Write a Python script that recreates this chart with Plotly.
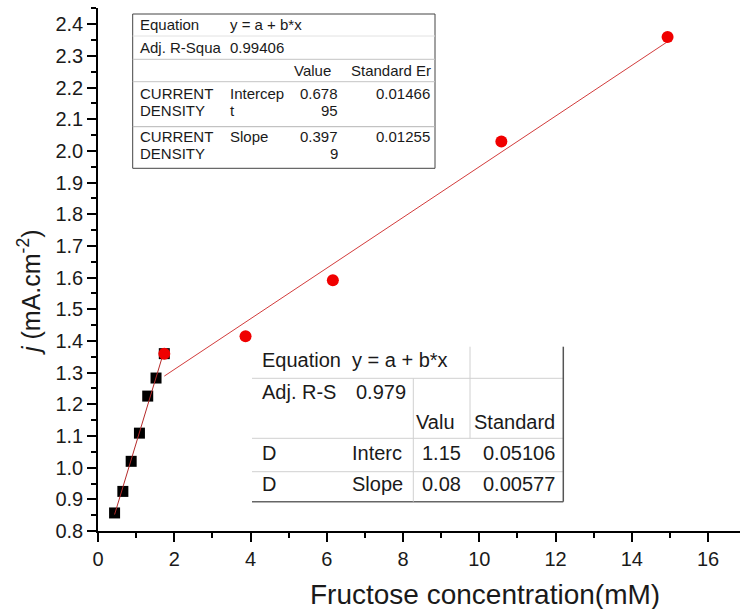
import numpy as np
import plotly.graph_objects as go

# ---------------- data ----------------
x_low = [0.435, 0.652, 0.870, 1.087, 1.304, 1.522, 1.739]
j_low = [0.857, 0.925, 1.020, 1.109, 1.226, 1.283, 1.360]
x_high = [1.739, 3.87, 6.16, 10.58, 14.94]
j_high = [1.360, 1.415, 1.592, 2.030, 2.360]

fit_low = {"intercept": 0.67895, "slope": 0.3979}
fit_high = {"intercept": 1.15, "slope": 0.08}

x_tickvals = [0, 2, 4, 6, 8, 10, 12, 14, 16]
y_tickvals = [0.8, 0.9, 1.0, 1.1, 1.2, 1.3, 1.4, 1.5, 1.6, 1.7, 1.8, 1.9, 2.0, 2.1, 2.2, 2.3, 2.4]

# each cell is a list of text lines
table1_rows = [
    [["Equation"], ["y = a + b*x"], [], []],
    [["Adj. R-Squa"], ["0.99406"], [], []],
    [[], [], ["Value"], ["Standard Er"]],
    [["CURRENT", "DENSITY"], ["Intercep", "t"], ["0.678", "95"], ["0.01466"]],
    [["CURRENT", "DENSITY"], ["Slope"], ["0.397", "9"], ["0.01255"]],
]
table2_rows = [
    ["Equation", "y = a + b*x", "", ""],
    ["Adj. R-S", "0.979", "", ""],
    ["", "", "Valu", "Standard"],
    ["D", "Interc", "1.15", "0.05106"],
    ["D", "Slope", "0.08", "0.00577"],
]

FONT = "Liberation Sans, Arial, sans-serif"
TXT = "#1a1a1a"
W, H = 740, 609
ML, MR, MT, MB = 98, 0, 8, 78
PW, PH = W - ML - MR, H - MT - MB


def px(x):
    return (x - ML) / PW


def py(y):
    return (H - MB - y) / PH


fig = go.Figure()

fig.add_trace(go.Scatter(x=x_low, y=j_low, mode="markers",
                         marker=dict(symbol="square", size=11, color="black"),
                         showlegend=False))

xl = np.array([min(x_low), max(x_low)])
fig.add_trace(go.Scatter(x=xl, y=fit_low["intercept"] + fit_low["slope"] * xl,
                         mode="lines", line=dict(color="#b52a2a", width=1),
                         showlegend=False))
xh = np.array([min(x_high), max(x_high)])
fig.add_trace(go.Scatter(x=xh, y=fit_high["intercept"] + fit_high["slope"] * xh,
                         mode="lines", line=dict(color="#d23c3c", width=1),
                         showlegend=False))
fig.add_trace(go.Scatter(x=x_high, y=j_high, mode="markers",
                         marker=dict(symbol="circle", size=12, color="#f00000"),
                         showlegend=False))

shapes = []
annotations = []


def hline(y, x0, x1, color, w=1):
    shapes.append(dict(type="line", xref="paper", yref="paper",
                       x0=px(x0), x1=px(x1), y0=py(y), y1=py(y),
                       line=dict(color=color, width=w)))


def vline(x, y0, y1, color, w=1):
    shapes.append(dict(type="line", xref="paper", yref="paper",
                       x0=px(x), x1=px(x), y0=py(y0), y1=py(y1),
                       line=dict(color=color, width=w)))


def txt(s, x, y, anchor, size):
    annotations.append(dict(text=s, x=px(x), y=py(y), xref="paper", yref="paper",
                            xanchor=anchor, yanchor="middle", showarrow=False,
                            font=dict(family=FONT, size=size, color=TXT)))


# ---------- table 1 (top-left) ----------
shapes.append(dict(type="rect", xref="paper", yref="paper",
                   x0=px(132.7), x1=px(435), y0=py(168.3), y1=py(14),
                   line=dict(color="#444444", width=1), fillcolor="white", layer="above"))
hline(36, 132.7, 435, "#e2e2e2")
hline(59.3, 132.7, 435, "#c4c4c4")
hline(81.7, 132.7, 435, "#c4c4c4")
hline(126.7, 132.7, 435, "#b4b4b4")

t1_first = [24.5, 47.3, 70.5, 93.3, 136.7]
t1_step = 17.2
t1_x = [(138, "left"), (228, "left"), (340, "right"), (432, "right")]
for r, row in enumerate(table1_rows):
    for c, lines in enumerate(row):
        xx, anc = t1_x[c]
        if r == 2 and c == 2:
            xx = 333
        if r == 2 and c == 3:
            xx = 433
        for k, s in enumerate(lines):
            txt(s, xx, t1_first[r] + k * t1_step, anc, 15)

# ---------- table 2 (bottom) ----------
hline(378.3, 252, 563.3, "#d0d0d0")
hline(438.3, 252, 563.3, "#d0d0d0")
hline(471.7, 252, 563.3, "#d0d0d0")
hline(501.7, 252, 563.3, "#666666", 1.5)
vline(563.3, 346.7, 501.7, "#555555", 1.5)
vline(470, 346.7, 438.3, "#d0d0d0")
vline(413.3, 378.3, 501.7, "#d0d0d0")

t2_y = [360, 391.7, 421.7, 453.3, 484]
t2_x = [(260, "left"), (350, "left"), (463, "right"), (557, "right")]
for r, row in enumerate(table2_rows):
    for c, s in enumerate(row):
        if not s:
            continue
        xx, anc = t2_x[c]
        if r == 1 and c == 1:
            xx = 354
        if r == 2 and c == 2:
            xx = 457
        txt(s, xx, t2_y[r], anc, 20)

# axis titles
annotations.append(dict(text="<i>j</i> (mA.cm<sup>-2</sup>)", x=px(29), y=py(292),
                        xref="paper", yref="paper", xanchor="center", yanchor="middle",
                        textangle=-90, showarrow=False,
                        font=dict(family=FONT, size=25, color=TXT)))
annotations.append(dict(text="Fructose concentration(mM)", x=px(485), y=py(594),
                        xref="paper", yref="paper", xanchor="center", yanchor="middle",
                        showarrow=False,
                        font=dict(family=FONT, size=28, color=TXT)))

fig.update_layout(
    width=W, height=H,
    margin=dict(l=ML, r=MR, t=MT, b=MB),
    paper_bgcolor="white", plot_bgcolor="white",
    shapes=shapes, annotations=annotations,
    showlegend=False,
    font=dict(family=FONT, color=TXT),
)
fig.update_xaxes(range=[0, PW / 38.125], tickvals=x_tickvals, showgrid=False, zeroline=False,
                 showline=True, linecolor="black", linewidth=1.5,
                 ticks="outside", ticklen=9, tickwidth=1.5, tickcolor="black",
                 tickfont=dict(family=FONT, size=20, color=TXT),
                 minor=dict(ticks="outside", ticklen=5, tickwidth=1.5, tickcolor="black", dtick=1, tick0=0))
fig.update_yaxes(range=[0.8, 0.8 + PH / 316.7], tickvals=y_tickvals, tickformat=".1f",
                 showgrid=False, zeroline=False,
                 showline=True, linecolor="black", linewidth=1.5,
                 ticks="outside", ticklen=9, tickwidth=1.5, tickcolor="black",
                 tickfont=dict(family=FONT, size=20, color=TXT),
                 minor=dict(ticks="outside", ticklen=5, tickwidth=1.5, tickcolor="black", dtick=0.05, tick0=0.8))

fig.write_html("out.html")
